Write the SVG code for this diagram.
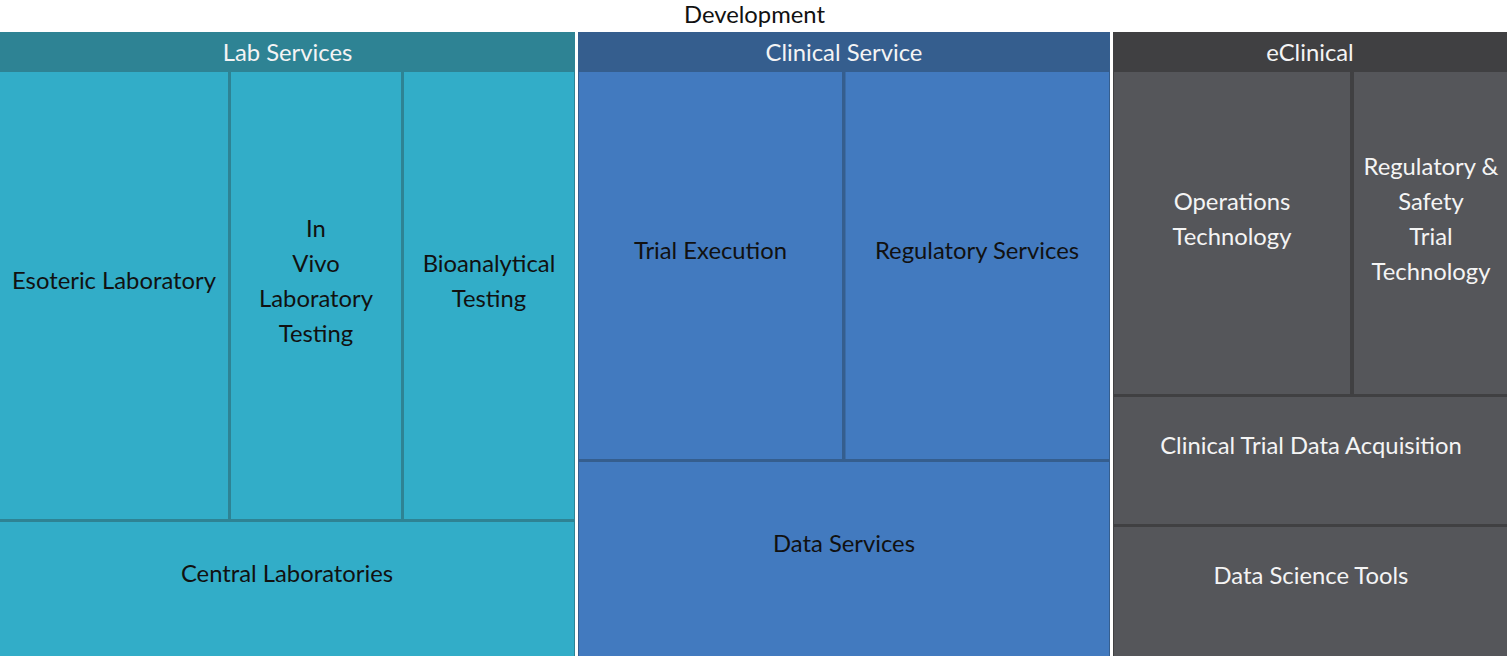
<svg xmlns="http://www.w3.org/2000/svg" width="1507" height="656" viewBox="0 0 1507 656">
<style>
text{font-family:Lato,"Open Sans","Liberation Sans",sans-serif;font-size:23.8px;text-anchor:middle}
.title{fill:#111}
.hdr{fill:#f4f4f4}
.dk{fill:#111}
.lt{fill:#f4f4f4}
.labH{fill:#2e8394}.labC{fill:#32adc8}
.cliH{fill:#355e8e}.cliC{fill:#427abf}
.ecH{fill:#404042}.ecC{fill:#55565a}
</style>
<rect x="0" y="0" width="1507" height="656" fill="#ffffff"/>
<text class="title" x="754.5" y="23">Development</text>
<g id="lab-services">
<rect class="labH" x="0" y="32" width="575" height="624"/>
<text class="hdr" x="287.5" y="61">Lab Services</text>
</g>
<g id="esoteric-laboratory">
<rect class="labC" x="0" y="72" width="228" height="447"/>
<text class="dk" x="114" y="288.5">Esoteric Laboratory</text>
</g>
<g id="in-vivo">
<rect class="labC" x="231" y="72" width="170" height="447"/>
<text class="dk" x="316" y="236.5">In</text>
<text class="dk" x="316" y="271.5">Vivo</text>
<text class="dk" x="316" y="306.5">Laboratory</text>
<text class="dk" x="316" y="341.5">Testing</text>
</g>
<g id="bioanalytical-testing">
<rect class="labC" x="404" y="72" width="170" height="447"/>
<text class="dk" x="489" y="271.5">Bioanalytical</text>
<text class="dk" x="489" y="306.5">Testing</text>
</g>
<g id="central-laboratories">
<rect class="labC" x="0" y="522" width="574" height="134"/>
<text class="dk" x="287" y="581.5">Central Laboratories</text>
</g>
<g id="clinical-service">
<rect class="cliH" x="578" y="32" width="532" height="624"/>
<text class="hdr" x="844" y="61">Clinical Service</text>
</g>
<g id="trial-execution">
<rect class="cliC" x="579" y="72" width="263" height="387"/>
<text class="dk" x="710.5" y="258.5">Trial Execution</text>
</g>
<g id="regulatory-services">
<rect class="cliC" x="845.5" y="72" width="263.5" height="387"/>
<text class="dk" x="977" y="258.5">Regulatory Services</text>
</g>
<g id="data-services">
<rect class="cliC" x="579" y="462" width="530" height="194"/>
<text class="dk" x="844" y="551.5">Data Services</text>
</g>
<g id="eclinical">
<rect class="ecH" x="1113" y="32" width="394" height="624"/>
<text class="hdr" x="1310" y="61">eClinical</text>
</g>
<g id="operations-technology">
<rect class="ecC" x="1114" y="72" width="236" height="322"/>
<text class="lt" x="1232" y="209.5">Operations</text>
<text class="lt" x="1232" y="244.5">Technology</text>
</g>
<g id="regulatory-safety-trial-technology">
<rect class="ecC" x="1354" y="72" width="153" height="322"/>
<text class="lt" x="1431" y="174.5">Regulatory &amp;</text>
<text class="lt" x="1431" y="209.5">Safety</text>
<text class="lt" x="1431" y="244.5">Trial</text>
<text class="lt" x="1431" y="279.5">Technology</text>
</g>
<g id="clinical-trial-data-acquisition">
<rect class="ecC" x="1114" y="397" width="393" height="127"/>
<text class="lt" x="1311" y="453.5">Clinical Trial Data Acquisition</text>
</g>
<g id="data-science-tools">
<rect class="ecC" x="1114" y="527" width="393" height="129"/>
<text class="lt" x="1311" y="583.5">Data Science Tools</text>
</g>
<g id="connectors"></g>
</svg>
